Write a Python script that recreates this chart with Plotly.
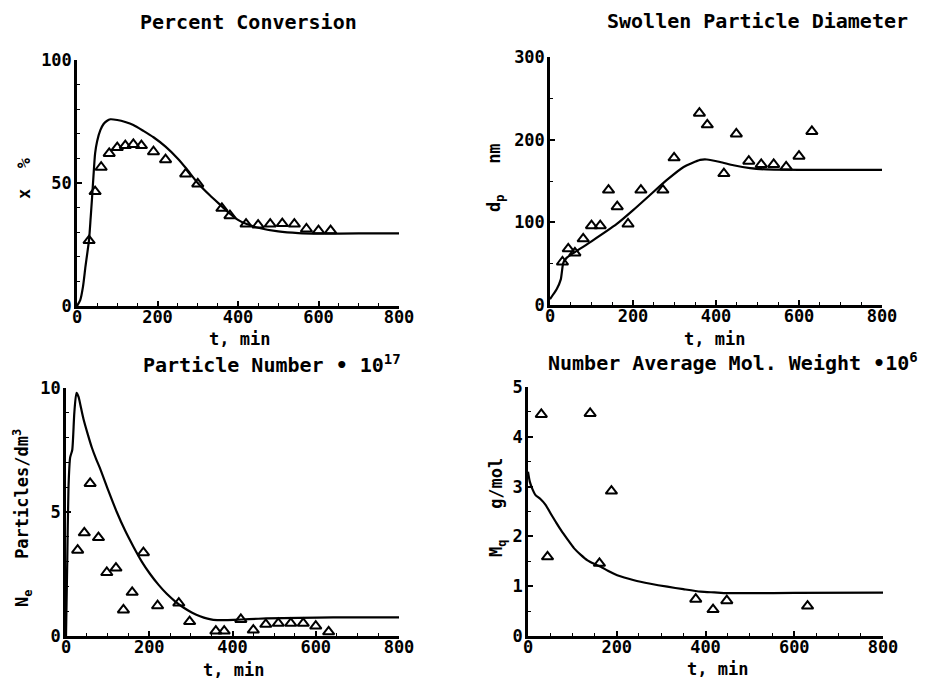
import plotly.graph_objects as go

# ---------------- data ----------------
# Panel 1: Percent Conversion
conv_t = [30, 45, 60, 80, 100, 120, 140, 160, 190, 220, 270, 300, 360, 380, 420, 450, 480, 510, 540, 570, 600, 630]
conv_x = [26.6, 46.5, 56.4, 62.0, 64.4, 65.2, 65.7, 65.2, 62.7, 59.5, 53.7, 49.6, 39.7, 36.7, 33.3, 32.9, 33.3, 33.5, 33.3, 31.3, 30.6, 30.6]
conv_curve_t = [0, 8, 15, 21, 26, 30, 34, 37, 41, 45, 50, 58, 66, 74, 83, 100, 120, 140, 165, 190, 220, 250, 271, 300, 330, 360, 380, 400, 420, 450, 500, 550, 600, 700, 800]
conv_curve_x = [0, 2.4, 8, 16, 22, 27, 36, 43, 53, 62, 67, 71.5, 74, 75.2, 75.9, 75.6, 74.8, 73.6, 71.2, 68.6, 64.8, 60.0, 56.0, 50.0, 45.0, 40.5, 37.5, 35.0, 33.4, 31.8, 30.3, 29.6, 29.4, 29.5, 29.5]

# Panel 2: Swollen Particle Diameter
dia_t = [30, 44, 60, 80, 100, 121, 141, 162, 188, 219, 272, 299, 360, 379, 419, 449, 479, 509, 539, 569, 600, 631]
dia_d = [52, 68, 63, 80, 96, 96, 139, 119, 98, 139, 139, 178, 232, 218, 159, 207, 174, 170, 170, 167, 180, 210]
dia_curve_t = [0, 8, 16, 26, 32, 40, 60, 100, 161, 201, 241, 281, 322, 362, 378, 410, 442, 482, 522, 603, 800]
dia_curve_d = [7, 13, 19, 31, 51, 57, 64, 77, 98, 115, 133, 151, 167, 175.5, 176, 173, 169, 165.5, 164, 163.5, 163.5]

# Panel 3: Particle Number * 10^17
num_t = [28, 44, 58, 78, 98, 120, 138, 159, 186, 220, 271, 297, 360, 380, 420, 450, 480, 510, 540, 570, 600, 631]
num_n = [3.46, 4.16, 6.15, 3.97, 2.56, 2.74, 1.05, 1.76, 3.36, 1.22, 1.33, 0.58, 0.20, 0.20, 0.67, 0.24, 0.47, 0.51, 0.51, 0.51, 0.40, 0.17]
num_curve_t = [0, 3, 6, 10, 15, 20, 25, 30, 36, 42, 52, 62, 72, 82, 102, 122, 142, 162, 182, 202, 222, 242, 262, 282, 302, 322, 340, 354, 380, 402, 440, 482, 560, 642, 800]
num_curve_n = [0, 3.0, 6.0, 7.2, 7.5, 9.0, 9.8, 9.65, 9.2, 8.75, 8.15, 7.6, 7.15, 6.75, 5.85, 5.0, 4.25, 3.6, 3.0, 2.5, 2.07, 1.7, 1.4, 1.15, 0.95, 0.8, 0.7, 0.65, 0.64, 0.65, 0.68, 0.71, 0.73, 0.75, 0.75]

# Panel 4: Number Average Mol. Weight * 10^6
mw_t = [30, 44, 140, 161, 188, 378, 417, 448, 630]
mw_m = [4.45, 1.59, 4.47, 1.46, 2.91, 0.74, 0.53, 0.71, 0.60]
mw_curve_t = [0, 4, 10, 17, 28, 40, 51, 62, 74, 89, 104, 119, 134, 149, 164, 180, 201, 239, 276, 314, 350, 389, 420, 449, 500, 600, 800]
mw_curve_m = [3.3, 3.1, 2.95, 2.83, 2.75, 2.63, 2.46, 2.3, 2.13, 1.94, 1.76, 1.63, 1.52, 1.45, 1.39, 1.31, 1.22, 1.12, 1.05, 0.99, 0.94, 0.89, 0.875, 0.86, 0.86, 0.865, 0.87]

titles = ["Percent Conversion", "Swollen Particle Diameter",
          "Particle Number \u2022 10<sup>17</sup>", "Number Average Mol. Weight \u202210<sup>6</sup>"]
xlabel = "t, min"
ylabels = ["x\u00a0\u00a0%", "d<sub>p</sub>\u00a0\u00a0\u00a0nm",
           "N<sub>e</sub>\u00a0\u00a0\u00a0Particles/dm<sup>3</sup>", "M<sub>q</sub>\u00a0\u00a0\u00a0g/mol"]

# ---------------- layout geometry ----------------
W, H = 934, 679
FONT = "DejaVu Sans Mono"

def px_x(p):
    return p / W

def px_y(p):
    return 1 - p / H

fig = go.Figure()

panels = [
    dict(curve=(conv_curve_t, conv_curve_x), pts=(conv_t, conv_x),
         xdom=(77, 399), ydom=(60, 306), yrange=[0, 100], ydt=50, ymin=10),
    dict(curve=(dia_curve_t, dia_curve_d), pts=(dia_t, dia_d),
         xdom=(550, 882), ydom=(57, 305), yrange=[0, 300], ydt=100, ymin=50),
    dict(curve=(num_curve_t, num_curve_n), pts=(num_t, num_n),
         xdom=(66, 399), ydom=(388, 636), yrange=[0, 10], ydt=5, ymin=1),
    dict(curve=(mw_curve_t, mw_curve_m), pts=(mw_t, mw_m),
         xdom=(528, 883), ydom=(387, 636), yrange=[0, 5], ydt=1, ymin=0.5),
]

for i, p in enumerate(panels):
    k = "" if i == 0 else str(i + 1)
    xa, ya = "x" + k, "y" + k
    fig.add_trace(go.Scatter(x=p["curve"][0], y=p["curve"][1], mode="lines",
                             line=dict(color="black", width=2.2, shape="spline", smoothing=0.6),
                             xaxis=xa, yaxis=ya, showlegend=False, cliponaxis=False))
    fig.add_trace(go.Scatter(x=p["pts"][0], y=p["pts"][1], mode="markers",
                             marker=dict(symbol="triangle-up-open", size=10, color="black",
                                         line=dict(width=2, color="black")),
                             xaxis=xa, yaxis=ya, showlegend=False, cliponaxis=False))
    axis_common = dict(showgrid=False, zeroline=False, showline=True, linecolor="black",
                       linewidth=2.5, ticks="inside", ticklen=5, tickwidth=1.5, tickcolor="black",
                       tickfont=dict(family=FONT, size=17, color="black", weight="bold"),
                       fixedrange=True, automargin=False)
    fig.layout["xaxis" + k] = dict(domain=[px_x(p["xdom"][0]), px_x(p["xdom"][1])],
                                   range=[0, 800], dtick=200, tick0=0, ticklabelstandoff=-6,
                                   minor=dict(dtick=50, ticks="inside", ticklen=3, tickwidth=1.2, tickcolor="black"),
                                   anchor=ya, **axis_common)
    fig.layout["yaxis" + k] = dict(domain=[px_y(p["ydom"][1]), px_y(p["ydom"][0])],
                                   range=p["yrange"], dtick=p["ydt"], tick0=0, ticklabelstandoff=-1,
                                   minor=dict(dtick=p["ymin"], ticks="inside", ticklen=3, tickwidth=1.2, tickcolor="black"),
                                   anchor=xa, **axis_common)

ann = []
title_pos = [(248, 22), (757, 21), (272, 364), (733, 362)]
xlab_pos = [(239, 339), (714, 339), (233, 670), (717, 669)]
ylab_pos = [(24, 178), (496, 178), (22, 518), (497, 508)]
for i in range(4):
    ann.append(dict(text=titles[i], x=px_x(title_pos[i][0]), y=px_y(title_pos[i][1]),
                    xref="paper", yref="paper", showarrow=False, xanchor="center", yanchor="middle",
                    font=dict(family=FONT, size=20, color="black", weight="bold")))
    ann.append(dict(text=xlabel, x=px_x(xlab_pos[i][0]), y=px_y(xlab_pos[i][1]),
                    xref="paper", yref="paper", showarrow=False, xanchor="center", yanchor="middle",
                    font=dict(family=FONT, size=17, color="black", weight="bold")))
    ann.append(dict(text=ylabels[i], x=px_x(ylab_pos[i][0]), y=px_y(ylab_pos[i][1]),
                    xref="paper", yref="paper", showarrow=False, xanchor="center", yanchor="middle",
                    textangle=-90,
                    font=dict(family=FONT, size=17, color="black", weight="bold")))

fig.update_layout(width=W, height=H, margin=dict(l=0, r=0, t=0, b=0),
                  paper_bgcolor="white", plot_bgcolor="white",
                  font=dict(family=FONT, color="black"), annotations=ann)

fig.write_html("out.html", config={"displayModeBar": False},
               post_script="document.body.style.margin='0';document.body.style.overflow='hidden';")
